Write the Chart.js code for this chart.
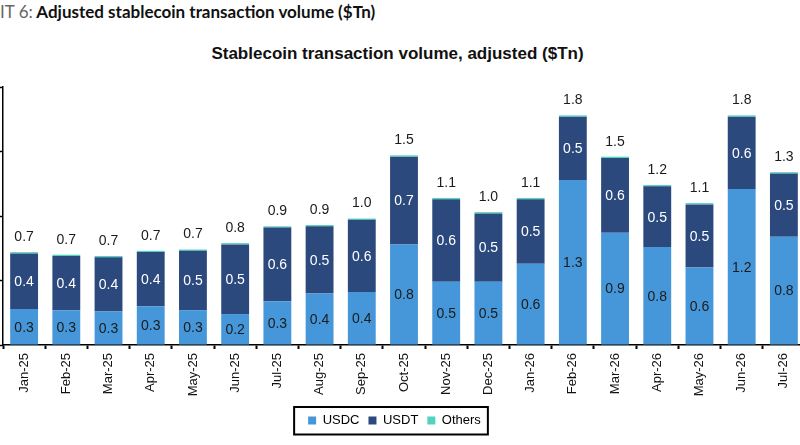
<!DOCTYPE html>
<html>
<head>
<meta charset="utf-8">
<script src="https://cdn.jsdelivr.net/npm/chart.js@4.4.1/dist/chart.umd.min.js"></script>
<style>
  body { margin:0; width:800px; height:445px; overflow:hidden; background:#fff; position:relative; }
  #head { position:absolute; left:0; top:1px; font:bold 17px Lato, sans-serif; color:#111; white-space:nowrap; }
  #head span { font-weight:normal; color:#666; }
  #title { position:absolute; left:0; width:795px; top:44px; text-align:center; font:bold 17px "Liberation Sans", Arial, sans-serif; color:#111; }
  #box { position:absolute; left:0; top:80px; width:806px; height:365px; }
</style>
</head>
<body>
<div id="head"><span>IT 6:</span> Adjusted stablecoin transaction volume ($Tn)</div>
<div id="title">Stablecoin transaction volume, adjusted ($Tn)</div>
<div id="box"><canvas id="myc"></canvas></div>
<script>
// months on the x axis
var months = ["Jan-25","Feb-25","Mar-25","Apr-25","May-25","Jun-25","Jul-25","Aug-25","Sep-25",
              "Oct-25","Nov-25","Dec-25","Jan-26","Feb-26","Mar-26","Apr-26","May-26","Jun-26","Jul-26"];
// $Tn
var usdc   = [0.28,0.27,0.26,0.30,0.27,0.24,0.34,0.40,0.41,0.78,0.49,0.49,0.63,1.28,0.87,0.76,0.60,1.21,0.84];
var usdt   = [0.43,0.42,0.42,0.42,0.46,0.54,0.57,0.52,0.56,0.68,0.64,0.53,0.50,0.49,0.58,0.47,0.49,0.56,0.49];
var others = [0.01,0.01,0.01,0.01,0.01,0.01,0.01,0.01,0.01,0.01,0.01,0.01,0.01,0.01,0.01,0.01,0.01,0.01,0.01];
var yTicks = [0, 0.5, 1.0, 1.5, 2.0];

var labelFont = '14px "Liberation Sans", Arial, sans-serif';

// numbers inside the segments and totals on top
var barLabels = {
  id: 'barLabels',
  afterDatasetsDraw: function(chart) {
    var ctx = chart.ctx;
    ctx.save();
    ctx.font = labelFont;
    ctx.textAlign = 'center';
    ctx.textBaseline = 'middle';
    var colors = ['#1b1b1b', '#ffffff'];
    for (var d = 0; d < 2; d++) {
      var meta = chart.getDatasetMeta(d);
      var vals = chart.data.datasets[d].data;
      meta.data.forEach(function(bar, i) {
        ctx.fillStyle = colors[d];
        ctx.fillText(vals[i].toFixed(1), bar.x, (bar.y + bar.base) / 2 + 1);
      });
    }
    var top = chart.getDatasetMeta(2);
    top.data.forEach(function(bar, i) {
      var tot = Math.round((usdc[i] + usdt[i] + others[i]) * 100) / 100;
      ctx.fillStyle = '#1b1b1b';
      ctx.fillText(tot.toFixed(1), bar.x, bar.y - 15);
    });
    ctx.restore();
  }
};

// legend sits a bit left of centre, with a black frame round it
var legendFrame = {
  id: 'legendFrame',
  afterLayout: function(chart) {
    chart.legend.left -= 8;
    chart.legend.right -= 8;
  },
  afterDraw: function(chart) {
    var hb = chart.legend.legendHitBoxes;
    if (!hb || !hb.length) return;
    var minX = hb[0].left, maxX = hb[hb.length-1].left + hb[hb.length-1].width;
    var cy = hb[0].top + hb[0].height / 2;
    var ctx = chart.ctx;
    ctx.save();
    ctx.strokeStyle = '#000';
    ctx.lineWidth = 2;
    ctx.strokeRect(minX - 14, cy - 13.5, (maxX - minX) + 21, 27.5);
    ctx.restore();
  }
};

var ctx = document.getElementById('myc').getContext('2d');
var myChart = new Chart(ctx, {
  type: 'bar',
  data: {
    labels: months,
    datasets: [
      { label: 'USDC', data: usdc, backgroundColor: '#4597d9', stack: 's' },
      { label: 'USDT', data: usdt, backgroundColor: '#2c497e', stack: 's' },
      { label: 'Others', data: others, backgroundColor: '#52d3bf', stack: 's' }
    ]
  },
  options: {
    responsive: true,
    maintainAspectRatio: false,
    animation: false,
    devicePixelRatio: 1,
    layout: { padding: { top: 7, left: 0, right: 1, bottom: 8 } },
    datasets: { bar: { categoryPercentage: 1, barPercentage: 0.66, borderWidth: 0 } },
    scales: {
      x: {
        stacked: true,
        grid: { display: true, drawOnChartArea: false, offset: true, tickLength: 4, tickWidth: 2, tickColor: '#000' },
        border: { color: '#000', width: 1.5 },
        ticks: { color: '#111', font: { family: '"Liberation Sans", Arial, sans-serif', size: 13 },
                 maxRotation: 90, minRotation: 90, padding: 4, autoSkip: false },
        afterFit: function(s) { s.height = 60; }
      },
      y: {
        stacked: true,
        min: yTicks[0],
        max: yTicks[yTicks.length - 1],
        afterBuildTicks: function(s) { s.ticks = yTicks.map(function(v){ return {value: v}; }); },
        grid: { display: true, drawOnChartArea: false, tickLength: 3, tickWidth: 1.5, tickColor: '#000' },
        border: { color: '#000', width: 1.5 },
        ticks: { display: false },
        afterFit: function(s) { s.width = 3; }
      }
    },
    plugins: {
      title: { display: false },
      tooltip: { enabled: false },
      legend: {
        position: 'bottom',
        labels: { boxWidth: 8, boxHeight: 8, padding: 9, color: '#000',
                  font: { family: '"Liberation Sans", Arial, sans-serif', size: 13 } }
      }
    }
  },
  plugins: [barLabels, legendFrame]
});
</script>
</body>
</html>
